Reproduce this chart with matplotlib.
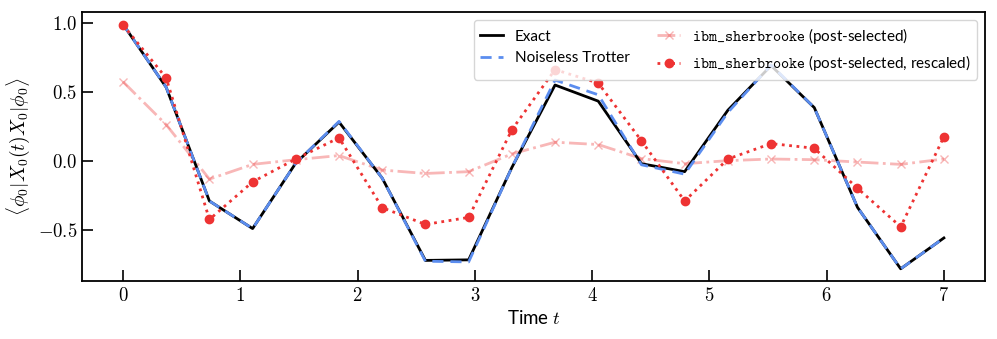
import numpy as np
import matplotlib
matplotlib.use("Agg")
import matplotlib.pyplot as plt
from matplotlib.ticker import FuncFormatter

plt.rcParams['mathtext.fontset'] = 'cm'
plt.rcParams['font.family'] = ['Lato', 'DejaVu Sans']

n_steps = 20
t_max = 7.0
t = np.linspace(0, t_max, n_steps)

exact = [0.99, 0.532, -0.293, -0.493, -0.017, 0.280, -0.127, -0.724, -0.720, -0.05,
         0.549, 0.432, -0.022, -0.080, 0.366, 0.69, 0.385, -0.339, -0.785, -0.561]
trotter = [0.99, 0.532, -0.293, -0.493, -0.017, 0.285, -0.127, -0.73, -0.735, -0.05,
           0.585, 0.478, -0.03, -0.098, 0.35, 0.695, 0.385, -0.339, -0.785, -0.561]
post_selected = [0.573, 0.261, -0.134, -0.027, 0.007, 0.037, -0.068, -0.093, -0.080, 0.049,
                 0.134, 0.117, 0.015, -0.022, 0.0, 0.012, 0.007, -0.01, -0.027, 0.012]
rescaled = [0.985, 0.60, -0.427, -0.154, 0.012, 0.166, -0.341, -0.463, -0.412, 0.224,
            0.661, 0.563, 0.144, -0.293, 0.012, 0.124, 0.09, -0.2, -0.48, 0.173]

fig = plt.figure(figsize=(9.97, 3.39), dpi=100)
ax = fig.add_axes([0.0822, 0.171, 0.9057, 0.7935])

ax.plot(t, exact, color='black', lw=2, label='Exact', zorder=3)
ax.plot(t, trotter, color='#5b8def', lw=2, ls=(0, (4, 2.5)), label='Noiseless Trotter', zorder=4)
ax.plot(t, post_selected, color='#f06060', alpha=0.45, lw=2, ls='-.', marker='x', ms=6,
        label=r'$\mathtt{ibm\_sherbrooke}$ (post-selected)', zorder=2)
ax.plot(t, rescaled, color='#ee3333', lw=2, ls=':', marker='o', ms=6,
        label=r'$\mathtt{ibm\_sherbrooke}$ (post-selected, rescaled)', zorder=5)

ax.set_xticks(range(0, 8))
ax.set_yticks([-0.5, 0.0, 0.5, 1.0])
ax.xaxis.set_major_formatter(FuncFormatter(lambda v, p: r'$%d$' % v))
ax.yaxis.set_major_formatter(FuncFormatter(lambda v, p: r'$%.1f$' % v))
ax.tick_params(direction='in', length=8, width=1.2, labelsize=13.5, top=False, right=False)
for s in ax.spines.values():
    s.set_linewidth(1.3)

ax.set_xlabel(r'Time $t$', fontsize=13.5)
ax.set_ylabel(r'$\langle \phi_0 | X_0(t) X_0 | \phi_0 \rangle$', fontsize=14)

ax.legend(loc='upper right', ncol=2, fontsize=11, frameon=True, fancybox=True,
          handlelength=1.5, handletextpad=0.8, columnspacing=1.8, borderaxespad=0.5)

fig.savefig('out.png', dpi=100)
